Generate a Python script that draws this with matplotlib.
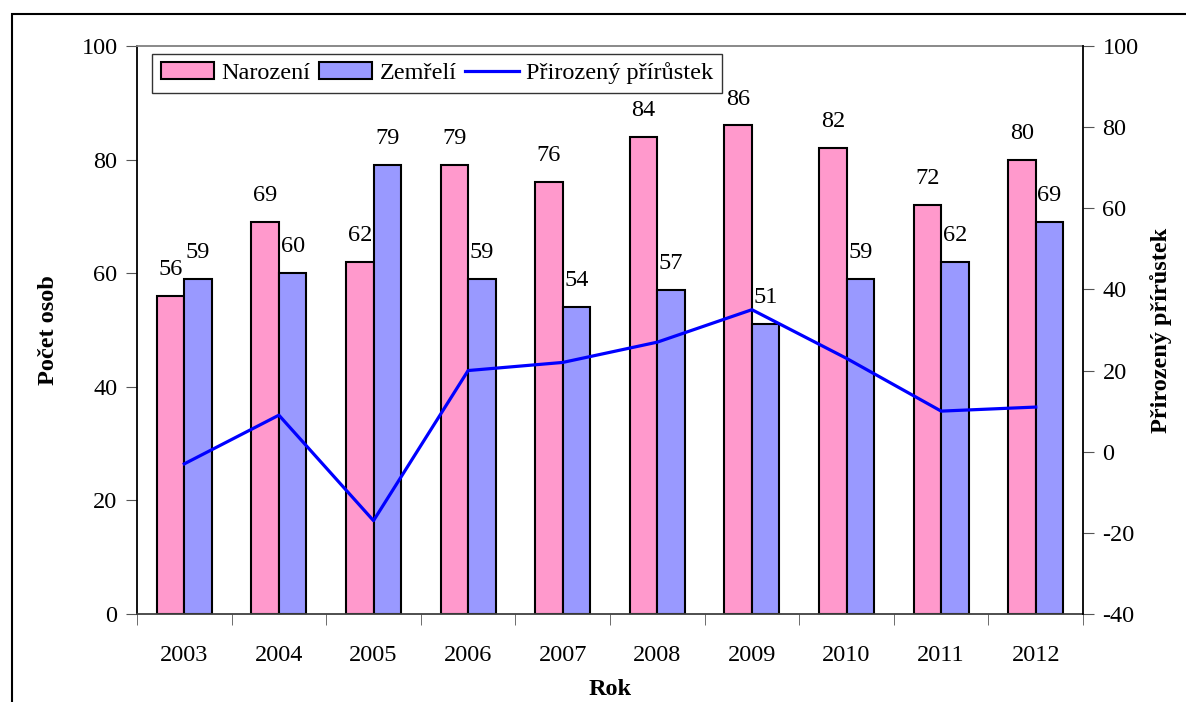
import matplotlib
matplotlib.use("Agg")
import matplotlib.pyplot as plt
from matplotlib.patches import Rectangle
import numpy as np

# data
roky = ["2003", "2004", "2005", "2006", "2007", "2008", "2009", "2010", "2011", "2012"]
narozeni = [56, 69, 62, 79, 76, 84, 86, 82, 72, 80]
zemreli = [59, 60, 79, 59, 54, 57, 51, 59, 62, 69]
prirustek = [-3, 9, -17, 20, 22, 27, 35, 23, 10, 11]

plt.rcParams["font.family"] = ["Liberation Serif", "DejaVu Serif"]
plt.rcParams["font.size"] = 17.5
plt.rcParams["axes.unicode_minus"] = False

fig = plt.figure(figsize=(11.86, 7.02), dpi=100)
ax = fig.add_axes([0.1155, 0.1254, 0.7977, 0.8091])

# outer frame (cropped at right/bottom)
fig.patches.append(Rectangle((12 / 1186, -0.2), 1.2, (702 - 14) / 702 + 0.2,
                             transform=fig.transFigure, fill=False,
                             edgecolor="black", linewidth=1.5))

x = np.arange(len(roky))
w = 0.29
b1 = ax.bar(x - w / 2, narozeni, w, color="#FF99CC", edgecolor="black",
            linewidth=1.5, label="Narození", zorder=2)
b2 = ax.bar(x + w / 2, zemreli, w, color="#9999FF", edgecolor="black",
            linewidth=1.5, label="Zemřelí", zorder=2)

for bars in (b1, b2):
    for r in bars:
        ax.annotate(f"{int(r.get_height())}",
                    (r.get_x() + r.get_width() / 2, r.get_height()),
                    xytext=(0, 19), textcoords="offset points",
                    ha="center", va="center", fontsize=17.5)

ax.set_xlim(-0.5, len(roky) - 0.5)
ax.set_ylim(0, 100)
ax.set_yticks(range(0, 101, 20))
ax.set_xticks(x)
ax.set_xticklabels(roky)
ax.set_xticks(np.arange(-0.5, len(roky), 1), minor=True)
ax.tick_params(axis="x", which="major", length=0, pad=22)
ax.tick_params(axis="x", which="minor", length=8, direction="out", color="#555555")
ax.tick_params(axis="y", length=8, direction="out", color="#555555", pad=6)

ax.set_xlabel("Rok", fontweight="bold", labelpad=10)
ax.set_ylabel("Počet osob", fontweight="bold", labelpad=16)

ax.spines["top"].set_color("#808080")
ax.spines["bottom"].set_color("#404040")
ax.spines["left"].set_color("black")
ax.spines["right"].set_visible(False)
for s in ax.spines.values():
    s.set_linewidth(1.3)

ax2 = ax.twinx()
ax2.plot(x, prirustek, color="#0000FF", linewidth=2.3, label="Přirozený přírůstek", zorder=3)
ax2.set_ylim(-40, 100)
ax2.set_yticks(range(-40, 101, 20))
ax2.tick_params(axis="y", length=8, direction="out", color="#555555", pad=6)
ax2.set_ylabel("Přirozený přírůstek", fontweight="bold", labelpad=8)
for side in ("top", "bottom", "left"):
    ax2.spines[side].set_visible(False)
ax2.spines["right"].set_color("black")
ax2.spines["right"].set_linewidth(1.3)

h1, l1 = ax.get_legend_handles_labels()
h2, l2 = ax2.get_legend_handles_labels()
leg = ax2.legend(h1 + h2, l1 + l2, loc="upper left", ncol=3, fontsize=17.5,
                 frameon=True, fancybox=False, edgecolor="black",
                 bbox_to_anchor=(0.016, 0.986), borderaxespad=0,
                 handlelength=2.2, handleheight=0.7, handletextpad=0.3,
                 columnspacing=0.35, borderpad=0.35)
leg.get_frame().set_linewidth(1.0)

fig.savefig("out.png", dpi=100)
